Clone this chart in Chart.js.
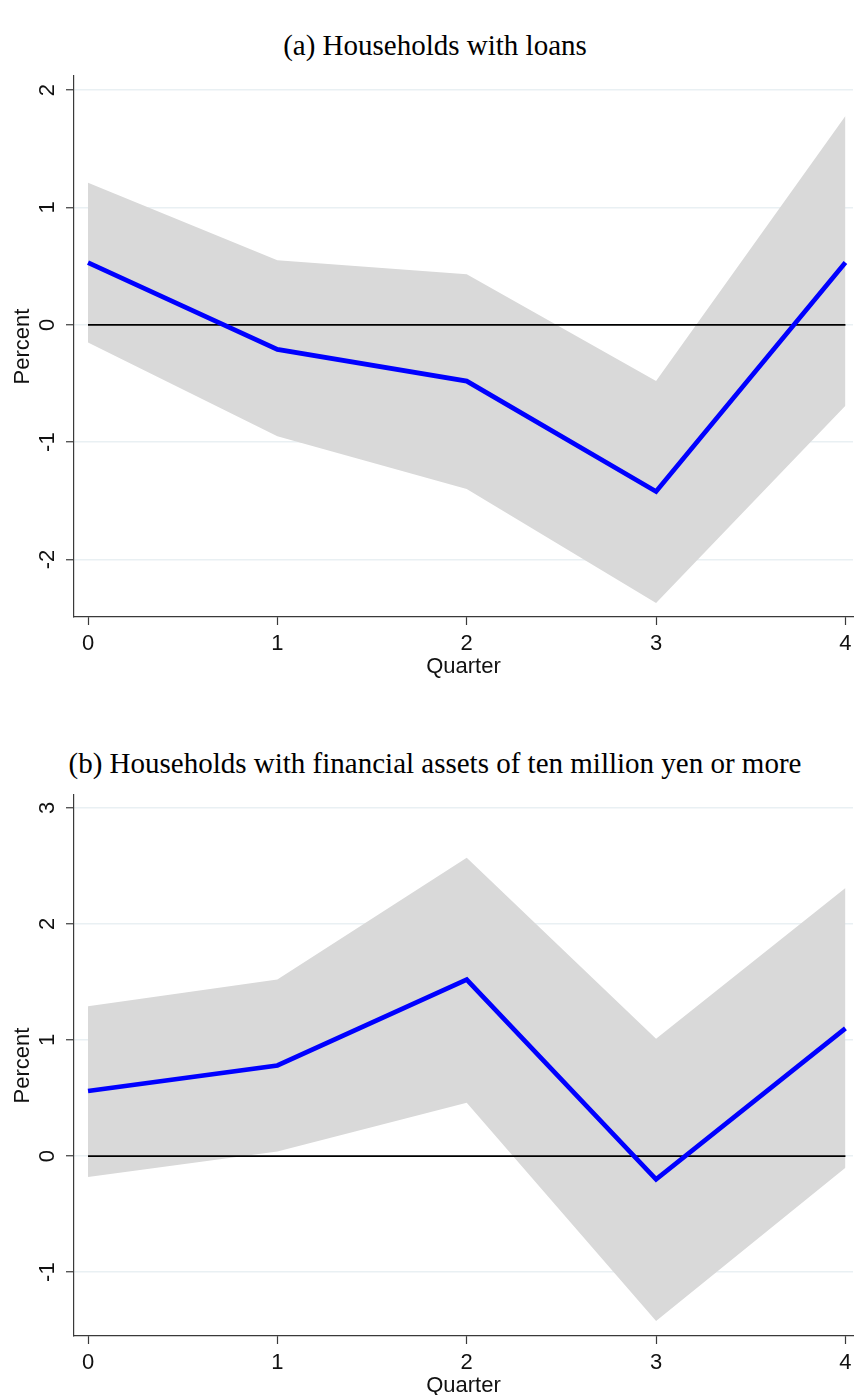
<!DOCTYPE html>
<html>
<head>
<meta charset="utf-8">
<script src="https://cdn.jsdelivr.net/npm/chart.js@4.4.1/dist/chart.umd.min.js"></script>
<style>
  html, body { margin: 0; padding: 0; background: #fff; width: 854px; height: 1395px; overflow: hidden; position: relative; }
  .title { position: absolute; left: 0; width: 870px; text-align: center; font-family: 'Liberation Serif', 'Times New Roman', serif; font-size: 29px; line-height: 30px; color: #000; }
  canvas { position: absolute; left: 0; }
</style>
</head>
<body>
<div class="title" style="top:30px">(a) Households with loans</div>
<canvas id="chartA" width="854" height="620" style="top:60px"></canvas>
<div class="title" style="top:748px">(b) Households with financial assets of ten million yen or more</div>
<canvas id="chartB" width="854" height="629" style="top:770px"></canvas>

<script>
// ── data ─────────────────────────────────────────────
const quarters = [0, 1, 2, 3, 4];

// (a) households with loans
const loansMid   = [0.53, -0.21, -0.48, -1.42, 0.53];
const loansUpper = [1.21, 0.55, 0.43, -0.48, 1.78];
const loansLower = [-0.15, -0.95, -1.40, -2.37, -0.69];
const loansTicks = [-2, -1, 0, 1, 2];

// (b) households with financial assets >= 10 million yen
const assetsMid   = [0.56, 0.78, 1.52, -0.20, 1.10];
const assetsUpper = [1.29, 1.52, 2.57, 1.01, 2.31];
const assetsLower = [-0.18, 0.04, 0.46, -1.42, -0.10];
const assetsTicks = [-1, 0, 1, 2, 3];

const zeroLine = [0, 0, 0, 0, 0];

// ── styling ──────────────────────────────────────────
const SANS = "'Liberation Sans', Arial, sans-serif";
const AXIS = '#3a3a3a';
const GRID = '#e9f0f3';
const BAND = '#d9d9d9';

function pts(ys) {
  return quarters.map((q, i) => ({ x: q, y: ys[i] }));
}

function makeChart(canvas, mid, upper, lower, yTicks, yMin, yMax, padTop) {
  return new Chart(canvas, {
    type: 'line',
    data: {
      datasets: [
        { data: pts(mid), borderColor: '#0000ff', borderWidth: 4.7, pointRadius: 0, fill: false, tension: 0 },
        { data: pts(zeroLine), borderColor: '#000', borderWidth: 1.8, pointRadius: 0, fill: false },
        { data: pts(upper), borderWidth: 0, borderColor: 'rgba(0,0,0,0)', backgroundColor: BAND, pointRadius: 0, fill: '+1' },
        { data: pts(lower), borderWidth: 0, borderColor: 'rgba(0,0,0,0)', pointRadius: 0, fill: false }
      ]
    },
    options: {
      responsive: false,
      animation: false,
      layout: { padding: { top: padTop, right: 1, left: 0, bottom: 0 } },
      plugins: { legend: { display: false }, tooltip: { enabled: false } },
      scales: {
        x: {
          type: 'linear',
          min: -0.074,
          max: 4.04,
          afterBuildTicks: s => { s.ticks = quarters.map(v => ({ value: v })); },
          afterFit: s => { s.height = 63; s.paddingLeft = 0; s.paddingRight = 0; },
          ticks: { color: '#111', font: { family: SANS, size: 22 }, padding: 6, maxRotation: 0, callback: v => String(v) },
          grid: { drawOnChartArea: false, tickColor: AXIS, tickLength: 8, tickWidth: 1.2 },
          border: { color: AXIS, width: 1.2 },
          title: { display: true, text: 'Quarter', color: '#111', font: { family: SANS, size: 22 }, padding: { top: 0, bottom: 0 } }
        },
        y: {
          type: 'linear',
          min: yMin,
          max: yMax,
          afterBuildTicks: s => { s.ticks = yTicks.map(v => ({ value: v })); },
          afterFit: s => { s.width = 74; s.paddingTop = 0; s.paddingBottom = 0; },
          ticks: { color: '#111', font: { family: SANS, size: 22 }, padding: 8, minRotation: 90, maxRotation: 90, crossAlign: 'center', callback: v => String(v) },
          grid: { color: GRID, lineWidth: 1.5, tickColor: AXIS, tickLength: 8, tickWidth: 1.2 },
          border: { color: AXIS, width: 1.2 },
          title: { display: true, text: 'Percent', color: '#111', font: { family: SANS, size: 22 }, padding: { top: 10, bottom: 0 } }
        }
      }
    }
  });
}

makeChart(document.getElementById('chartA'), loansMid, loansUpper, loansLower, loansTicks, -2.49, 2.12, 16);
makeChart(document.getElementById('chartB'), assetsMid, assetsUpper, assetsLower, assetsTicks, -1.55, 3.11, 25);
</script>
</body>
</html>
